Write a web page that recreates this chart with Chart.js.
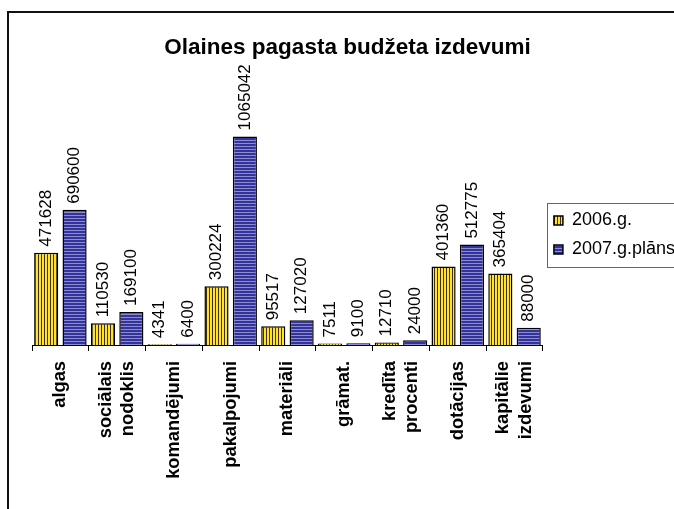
<!DOCTYPE html>
<html><head><meta charset="utf-8">
<script src="https://cdn.jsdelivr.net/npm/chart.js@4/dist/chart.umd.min.js"></script>
<style>
html,body{margin:0;padding:0;background:#fff;overflow:hidden;width:674px;height:509px}
#frame{position:absolute;left:7px;top:11px;width:720px;height:560px;border-left:2px solid #111;border-top:2px solid #111;}
#wrap{position:absolute;left:0;top:0;width:694px;height:509px}
</style></head><body>
<div id="frame"></div>
<div id="wrap"><canvas id="c" width="694" height="509"></canvas></div>
<script>
const chartTitle = 'Olaines pagasta budžeta izdevumi';
const categories = [
  'algas',
  ['sociālais', 'nodoklis'],
  'komandējumi',
  'pakalpojumi',
  'materiāli',
  'grāmat.',
  ['kredīta', 'procenti'],
  'dotācijas',
  ['kapitālie', 'izdevumi']
];
const seriesNames = ['2006.g.', '2007.g.plāns'];
const values2006 = [471628, 110530, 4341, 300224, 95517, 7511, 12710, 401360, 365404];
const values2007 = [690600, 169100, 6400, 1065042, 127020, 9100, 24000, 512775, 88000];
const yMax = 1200000;

const FONT = '"Liberation Sans", Arial, sans-serif';

function makePattern(kind) {
  const c = document.createElement('canvas');
  c.width = 3; c.height = 3;
  const g = c.getContext('2d');
  if (kind === 'v') {
    g.fillStyle = '#FFE033'; g.fillRect(0, 0, 3, 3);
    g.fillStyle = '#3d3200'; g.fillRect(2, 0, 1, 3);
  } else {
    g.fillStyle = '#333399'; g.fillRect(0, 0, 3, 3);
    g.fillStyle = '#8c8cd2'; g.fillRect(0, 2, 3, 1);
  }
  return g.createPattern(c, 'repeat');
}

const valueLabels = {
  id: 'valueLabels',
  afterDatasetsDraw(chart) {
    const ctx = chart.ctx;
    ctx.save();
    ctx.font = '17px ' + FONT;
    ctx.fillStyle = '#000';
    ctx.textAlign = 'left';
    ctx.textBaseline = 'middle';
    chart.data.datasets.forEach((ds, di) => {
      chart.getDatasetMeta(di).data.forEach((bar, i) => {
        ctx.save();
        ctx.translate(bar.x, bar.y - 6);
        ctx.rotate(-Math.PI / 2);
        ctx.fillText(String(ds.data[i]), 0, 0);
        ctx.restore();
      });
    });
    ctx.restore();
  }
};

const categoryLabels = {
  id: 'categoryLabels',
  afterDraw(chart) {
    const ctx = chart.ctx;
    const xs = chart.scales.x;
    const lh = 22.5;
    ctx.save();
    ctx.font = 'bold 18.3px ' + FONT;
    ctx.fillStyle = '#000';
    ctx.textAlign = 'right';
    ctx.textBaseline = 'middle';
    chart.data.labels.forEach((lab, i) => {
      const lines = Array.isArray(lab) ? lab : [lab];
      const cx = xs.getPixelForTick(i);
      lines.forEach((ln, j) => {
        const x = cx + (j - (lines.length - 1) / 2) * lh;
        ctx.save();
        ctx.translate(x, xs.top + 16);
        ctx.rotate(-Math.PI / 2);
        ctx.fillText(ln, 0, 0);
        ctx.restore();
      });
    });
    ctx.restore();
  }
};

const legendShift = {
  id: 'legendShift',
  afterLayout(chart) {
    chart.legend.top += 7.5;
    chart.legend.bottom += 7.5;
  }
};

const legendFrame = {
  id: 'legendFrame',
  afterDraw(chart) {
    const lg = chart.legend;
    const hb = lg.legendHitBoxes;
    if (!hb || !hb.length) return;
    const ctx = chart.ctx;
    const top = hb[0].top - 9;
    const last = hb[hb.length - 1];
    const bottom = last.top + last.height + 8;
    ctx.save();
    ctx.strokeStyle = '#666';
    ctx.lineWidth = 1;
    ctx.strokeRect(Math.round(lg.left + 4) + 0.5, Math.round(top) + 0.5, chart.width, Math.round(bottom - top));
    ctx.restore();
  }
};

new Chart(document.getElementById('c'), {
  type: 'bar',
  data: {
    labels: categories,
    datasets: [
      { label: seriesNames[0], data: values2006, backgroundColor: makePattern('v'), borderColor: '#000', borderWidth: 1.5 },
      { label: seriesNames[1], data: values2007, backgroundColor: makePattern('h'), borderColor: '#000', borderWidth: 1.5 }
    ]
  },
  options: {
    responsive: false,
    animation: false,
    events: [],
    layout: { padding: { left: 10, right: 9, top: 0, bottom: 0 } },
    categoryPercentage: 1.0,
    barPercentage: 0.85,
    scales: {
      x: {
        grid: { offset: true, drawOnChartArea: false, color: '#000', tickLength: 6, lineWidth: 1 },
        border: { display: true, color: '#000', width: 1 },
        ticks: { display: false },
        afterFit(scale) { scale.height = 164; }
      },
      y: {
        display: true,
        min: 0,
        max: yMax,
        grid: { display: false, drawTicks: false },
        border: { display: false },
        ticks: { display: false },
        afterFit(scale) { scale.width = 22; }
      }
    },
    plugins: {
      title: {
        display: true,
        text: chartTitle,
        color: '#000',
        font: { family: FONT, size: 22.5, weight: 'bold' },
        padding: { top: 34, bottom: 49 }
      },
      legend: {
        position: 'right',
        fullSize: false,
        labels: {
          color: '#000',
          font: { family: FONT, size: 18, lineHeight: 0.9 },
          boxWidth: 9,
          boxHeight: 9,
          padding: 11
        }
      },
      tooltip: { enabled: false }
    }
  },
  plugins: [valueLabels, categoryLabels, legendShift, legendFrame]
});
</script>
</body></html>
